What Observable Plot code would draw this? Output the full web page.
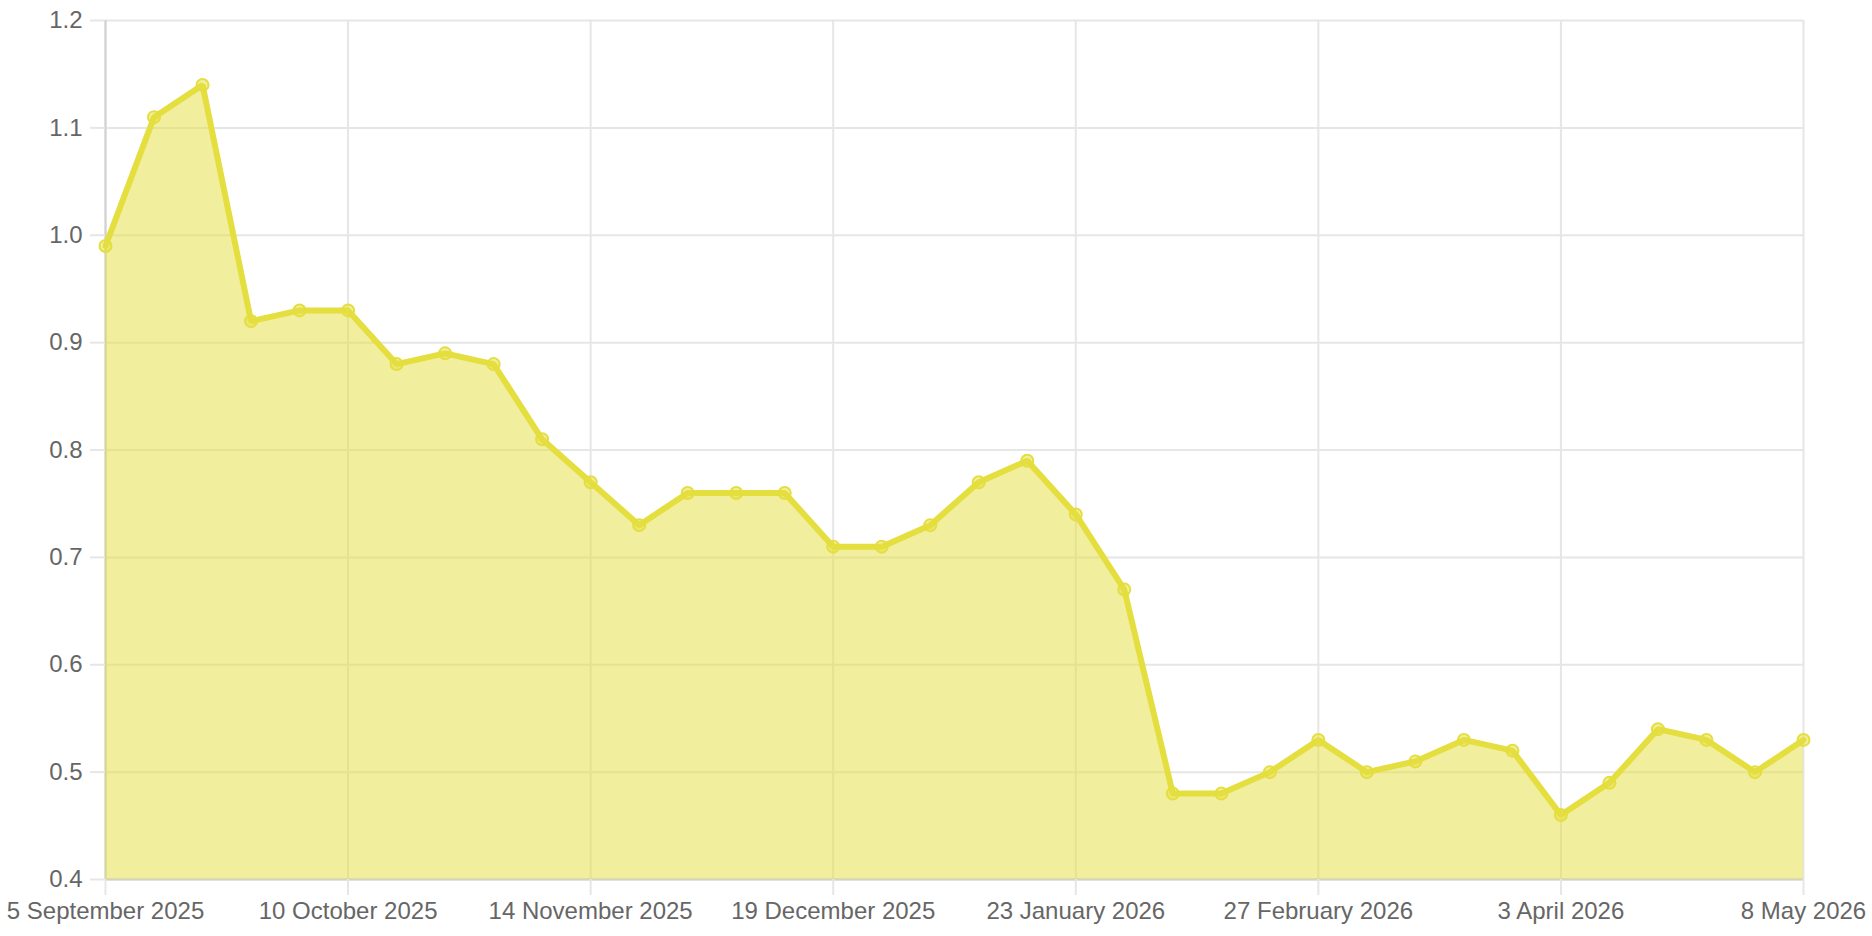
<!DOCTYPE html>
<html>
<head>
<meta charset="utf-8">
<script src="https://cdn.jsdelivr.net/npm/d3@7"></script>
<script src="https://cdn.jsdelivr.net/npm/@observablehq/plot@0.6"></script>
<style>
  html, body { margin: 0; padding: 0; background: #fff; }
  #chart { width: 1872px; height: 936px; }
</style>
</head>
<body>
<div id="chart"></div>
<script>
const dates = [
  "2025-09-05","2025-09-12","2025-09-19","2025-09-26",
  "2025-10-03","2025-10-10","2025-10-17","2025-10-24","2025-10-31",
  "2025-11-07","2025-11-14","2025-11-21","2025-11-28",
  "2025-12-05","2025-12-12","2025-12-19","2025-12-26",
  "2026-01-02","2026-01-09","2026-01-16","2026-01-23","2026-01-30",
  "2026-02-06","2026-02-13","2026-02-20","2026-02-27",
  "2026-03-06","2026-03-13","2026-03-20","2026-03-27",
  "2026-04-03","2026-04-10","2026-04-17","2026-04-24",
  "2026-05-01","2026-05-08"
];
const values = [
  0.99, 1.11, 1.14, 0.92, 0.93, 0.93, 0.88, 0.89, 0.88, 0.81,
  0.77, 0.73, 0.76, 0.76, 0.76, 0.71, 0.71, 0.73, 0.77, 0.79,
  0.74, 0.67, 0.48, 0.48, 0.50, 0.53, 0.50, 0.51, 0.53, 0.52,
  0.46, 0.49, 0.54, 0.53, 0.50, 0.53
];
const xTickDates = ["2025-09-05","2025-10-10","2025-11-14","2025-12-19","2026-01-23","2026-02-27","2026-04-03","2026-05-08"];
const yTicks = [0.4, 0.5, 0.6, 0.7, 0.8, 0.9, 1.0, 1.1, 1.2];

const parse = d3.utcParse("%Y-%m-%d");
const data = dates.map((d, i) => ({date: parse(d), value: values[i]}));
const xTicks = xTickDates.map(parse);
const fmt = d3.utcFormat("%-d %B %Y");

const lineColor = "#e4de3e";
const gridColor = "#e6e6e6";
const axisColor = "#d0d0d0";

const chart = Plot.plot({
  width: 1872,
  height: 936,
  marginLeft: 105,
  marginRight: 69,
  marginTop: 20,
  marginBottom: 57,
  style: {fontFamily: "'Liberation Sans', Arial, Helvetica, sans-serif", fontSize: "24px", color: "#666", background: "#fff"},
  x: {type: "utc", domain: [xTicks[0], xTicks[xTicks.length - 1]]},
  y: {domain: [0.4, 1.2]},
  marks: [
    Plot.gridX(xTicks, {stroke: gridColor, strokeOpacity: 1, strokeWidth: 2}),
    Plot.gridY(yTicks, {stroke: gridColor, strokeOpacity: 1, strokeWidth: 2}),
    Plot.ruleX([xTicks[0]], {stroke: axisColor, strokeWidth: 2}),
    Plot.ruleY([0.4], {stroke: axisColor, strokeWidth: 2}),
    Plot.areaY(data, {x: "date", y1: 0.4, y2: "value", fill: lineColor, fillOpacity: 0.5}),
    Plot.lineY(data, {x: "date", y: "value", stroke: lineColor, strokeWidth: 6, strokeLinejoin: "miter"}),
    Plot.dot(data, {x: "date", y: "value", r: 6, stroke: lineColor, strokeWidth: 2, fill: lineColor, fillOpacity: 0.5}),
    Plot.axisX(xTicks, {tickFormat: fmt, tickSize: 16, tickPadding: 6, stroke: gridColor, strokeWidth: 2, fill: "#666", fontSize: 24, label: null}),
    Plot.axisY(yTicks, {tickFormat: d3.format(".1f"), tickSize: 15, tickPadding: 8, stroke: gridColor, strokeWidth: 2, fill: "#666", fontSize: 24, label: null})
  ]
});
document.getElementById("chart").appendChild(chart);
</script>
</body>
</html>
